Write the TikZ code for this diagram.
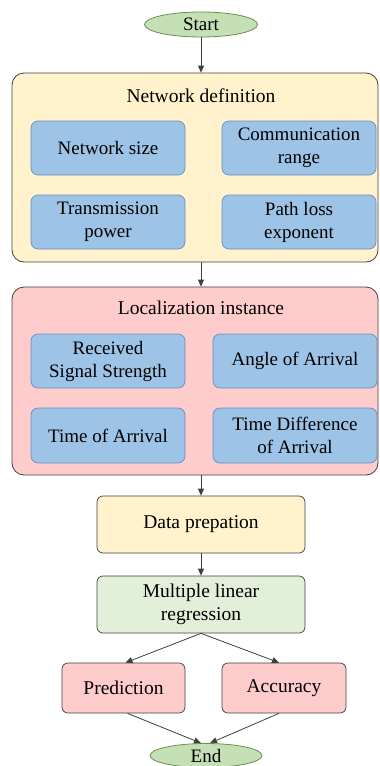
\documentclass[tikz,border=0pt]{standalone}
\usepackage{fontspec}
\setmainfont{Liberation Serif}
\usetikzlibrary{shapes.geometric,arrows.meta}
\definecolor{termfill}{HTML}{C5E0B4}
\definecolor{termdraw}{HTML}{6A8F4E}
\definecolor{yelfill}{HTML}{FFF2CC}
\definecolor{pinkfill}{HTML}{FFCCCC}
\definecolor{bluefill}{HTML}{9DC3E6}
\definecolor{bluedraw}{HTML}{6C8EBF}
\definecolor{grnfill}{HTML}{E2F0D9}
\definecolor{linegray}{HTML}{404040}
\tikzset{
  x=1pt,y=-1pt,
  term/.style={ellipse,draw=termdraw,fill=termfill,line width=0.8pt,inner sep=0pt,font=\fontsize{19}{21}\selectfont},
  group/.style={draw=linegray,rounded corners=12pt,line width=0.8pt,inner sep=0pt},
  inner/.style={draw=bluedraw,fill=bluefill,rounded corners=7pt,line width=0.7pt,align=center,inner sep=0pt,font=\fontsize{19}{23}\selectfont},
  proc/.style={draw=linegray,rounded corners=6pt,line width=0.7pt,align=center,inner sep=0pt,font=\fontsize{19.5}{23}\selectfont},
  title/.style={font=\fontsize{19.5}{23}\selectfont},
  arr/.style={draw=linegray,line width=0.8pt,-{Triangle[length=7pt,width=6pt]}}
}
\begin{document}
\begin{tikzpicture}
\useasboundingbox (0,0) rectangle (380,766);
\fill[white] (0,0) rectangle (380,766);
% Start
\node[term,minimum width=113pt,minimum height=25pt] (start) at (201,24.5) {Start};
% Network definition group
\node[group,fill=yelfill,minimum width=366pt,minimum height=189pt] (net) at (195,167.5) {};
\node[title] (nettitle) at (201,96) {Network definition};
\node[inner,minimum width=154pt,minimum height=54pt] (nsize) at (108,148) {Network size};
\node[inner,minimum width=154pt,minimum height=54pt] (crange) at (299,148) {Communication\\range};
\node[inner,minimum width=154pt,minimum height=54pt] (tpow) at (108,222) {Transmission\\power};
\node[inner,minimum width=154pt,minimum height=54pt] (ploss) at (299,222) {Path loss\\exponent};
% Localization instance group
\node[group,fill=pinkfill,minimum width=366pt,minimum height=188pt] (loc) at (195,381) {};
\node[title] (loctitle) at (201,308) {Localization instance};
\node[inner,minimum width=154pt,minimum height=54pt] (rss) at (108,361) {Received\\Signal Strength};
\node[inner,minimum width=164pt,minimum height=54pt] (aoa) at (295,361) {Angle of Arrival};
\node[inner,minimum width=154pt,minimum height=55pt] (toa) at (108,435.5) {Time of Arrival};
\node[inner,minimum width=164pt,minimum height=55pt] (tdoa) at (295,435.5) {Time Difference\\of Arrival};
% Process boxes
\node[proc,fill=yelfill,minimum width=208pt,minimum height=57pt] (data) at (201,524.5) {Data prepation};
\node[proc,fill=grnfill,minimum width=208pt,minimum height=57pt] (mlr) at (201,604.5) {Multiple linear\\regression};
\node[proc,fill=pinkfill,minimum width=123pt,minimum height=50pt] (pred) at (123.5,688) {Prediction};
\node[proc,fill=pinkfill,minimum width=124pt,minimum height=50pt] (acc) at (284,688) {Accuracy};
% End
\node[term,minimum width=112pt,minimum height=24pt] (end) at (206,755.5) {End};
% Connectors
\draw[arr] (start.south) -- (net.north-|start.south);
\draw[arr] (net.south-|start.south) -- (loc.north-|start.south);
\draw[arr] (loc.south-|start.south) -- (data.north);
\draw[arr] (data.south) -- (mlr.north);
\draw[arr] (mlr.south) -- ([xshift=2pt]pred.north);
\draw[arr] (mlr.south) -- ([xshift=-5pt]acc.north);
\draw[arr] ([xshift=4pt]pred.south) -- ([xshift=-5pt]end.north);
\draw[arr] ([xshift=-5pt]acc.south) -- ([xshift=4pt]end.north);
\end{tikzpicture}
\end{document}
